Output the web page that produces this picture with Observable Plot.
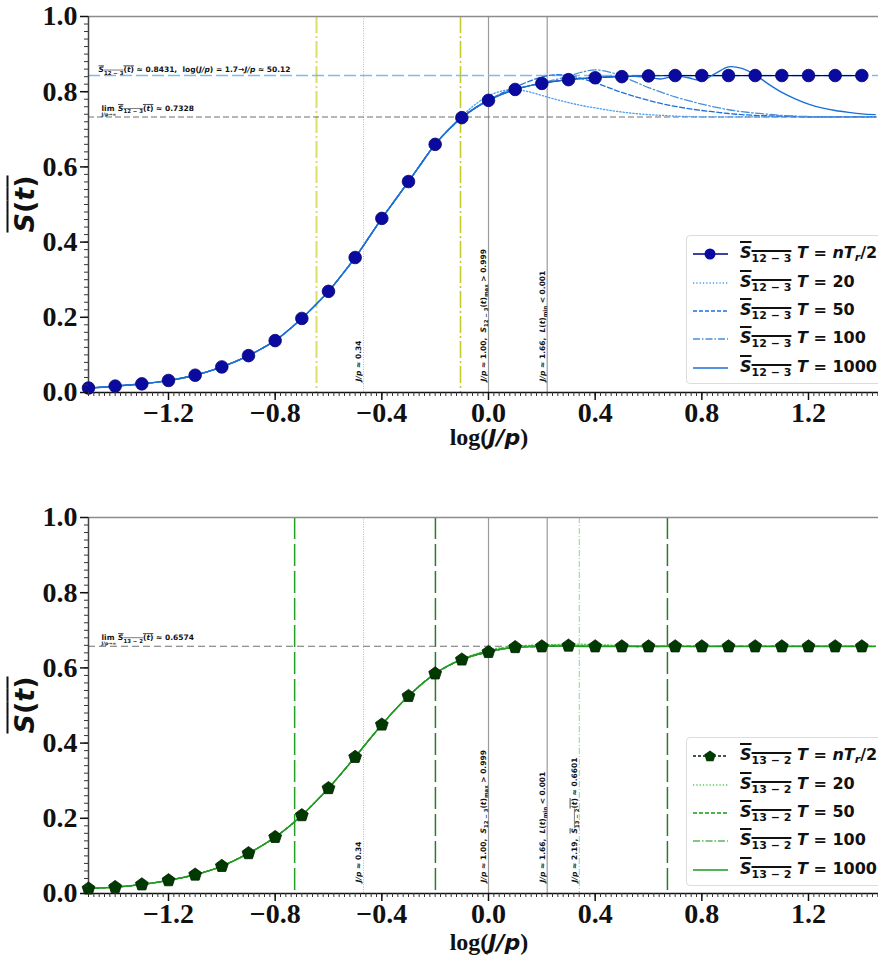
<!DOCTYPE html>
<html>
<head>
<meta charset="utf-8">
<script src="https://cdn.jsdelivr.net/npm/d3@7"></script>
<script src="https://cdn.jsdelivr.net/npm/@observablehq/plot@0.6"></script>
<style>
  html, body { margin: 0; padding: 0; background: #fff; }
  #fig { position: relative; width: 878px; height: 960px; overflow: hidden; background: #fff; }
  #fig svg.panel { position: absolute; left: 0; }
  .panel g[aria-label$="tick label"] text { font-family: "Liberation Serif", serif; font-weight: bold; font-size: 28px; }
  .xl { position: absolute; transform: translate(-50%, -50%); white-space: nowrap; font: bold 24px "Liberation Serif", serif; color: #111; }
  .xl i { font-family: "DejaVu Sans", sans-serif; font-size: 22px; }
  .yl { position: absolute; transform: translate(-50%, -50%) rotate(-90deg); white-space: nowrap; font: bold 27px "DejaVu Sans", sans-serif; color: #111; }
  .ov { text-decoration: overline; text-decoration-thickness: 2px; }
  .legend { position: absolute; width: 210px; background: #fff; border: 1px solid #dcdcdc; border-radius: 4px; box-sizing: border-box; padding-top: 4px; }
  .legend .row { display: flex; align-items: center; height: 28.4px; }
  .legend svg { margin-left: 6px; flex: none; }
  .legend .lab { margin-left: 12px; font: bold 16px "DejaVu Sans", sans-serif; color: #111; white-space: nowrap; }
  .legend .lab sub { font-size: 11px; vertical-align: -4px; }
  .legend .lab .ov { text-decoration-thickness: 1.5px; }
</style>
</head>
<body>
<div id="fig"></div>
<script>
// ---- sampling grids (log10 J/p) ----
const xRise = [-1.5, -1.45, -1.4, -1.35, -1.3, -1.25, -1.2, -1.15, -1.1, -1.05, -1.0, -0.95, -0.9, -0.85,
  -0.8, -0.75, -0.7, -0.65, -0.6, -0.55, -0.5, -0.45, -0.4, -0.35, -0.3, -0.25, -0.2];
const xTail = [-0.15, -0.1, -0.05, 0, 0.05, 0.1, 0.15, 0.2, 0.25, 0.3, 0.35, 0.4, 0.45, 0.5, 0.55, 0.6, 0.65,
  0.7, 0.75, 0.8, 0.85, 0.9, 0.95, 1.0, 1.05, 1.1, 1.15, 1.2, 1.25, 1.3, 1.35, 1.4, 1.45];
const xPoints = [-1.5, -1.4, -1.3, -1.2, -1.1, -1.0, -0.9, -0.8, -0.7, -0.6, -0.5, -0.4, -0.3, -0.2, -0.1,
  0, 0.1, 0.2, 0.3, 0.4, 0.5, 0.6, 0.7, 0.8, 0.9, 1.0, 1.1, 1.2, 1.3, 1.4];

// ---- S_{12-3}: time average at T = nT_r/2 and finite T ----
const s123Points = [0.012, 0.017, 0.023, 0.032, 0.046, 0.068, 0.098, 0.138, 0.197, 0.269, 0.359, 0.463, 0.561,
  0.660, 0.731, 0.777, 0.806, 0.822, 0.832, 0.837, 0.840, 0.842, 0.843, 0.843, 0.843, 0.843, 0.843, 0.843, 0.843, 0.843];
const s123Rise = [0.012, 0.014, 0.017, 0.020, 0.023, 0.027, 0.032, 0.038, 0.046, 0.056, 0.068, 0.082, 0.098, 0.117,
  0.138, 0.166, 0.197, 0.232, 0.269, 0.313, 0.359, 0.411, 0.463, 0.512, 0.561, 0.611, 0.660];
const s123T20 = [0.700, 0.735, 0.766, 0.789, 0.802, 0.806, 0.800, 0.790, 0.780, 0.771, 0.763, 0.757, 0.751, 0.746,
  0.742, 0.739, 0.737, 0.735, 0.734, 0.733, 0.733, 0.733, 0.733, 0.733, 0.733, 0.733, 0.733, 0.733, 0.733, 0.733,
  0.733, 0.733, 0.733];
const s123T50 = [0.698, 0.731, 0.757, 0.778, 0.796, 0.812, 0.827, 0.839, 0.845, 0.843, 0.835, 0.824, 0.811, 0.798,
  0.787, 0.777, 0.768, 0.761, 0.755, 0.750, 0.746, 0.742, 0.739, 0.737, 0.736, 0.735, 0.734, 0.733, 0.733, 0.733,
  0.733, 0.733, 0.733];
const s123T100 = [0.699, 0.731, 0.757, 0.778, 0.794, 0.807, 0.816, 0.824, 0.832, 0.841, 0.852, 0.858, 0.853, 0.841,
  0.826, 0.811, 0.798, 0.786, 0.776, 0.767, 0.759, 0.752, 0.747, 0.743, 0.740, 0.737, 0.735, 0.734, 0.733, 0.733,
  0.733, 0.733, 0.733];
const s123T1000 = [0.699, 0.731, 0.757, 0.777, 0.793, 0.806, 0.815, 0.822, 0.828, 0.832, 0.835, 0.837, 0.840, 0.842,
  0.841, 0.838, 0.834, 0.842, 0.837, 0.830, 0.848, 0.866, 0.862, 0.845, 0.820, 0.798, 0.781, 0.767, 0.757, 0.750,
  0.745, 0.741, 0.739];

// ---- S_{13-2} ----
const s132Points = [0.013, 0.017, 0.024, 0.035, 0.050, 0.073, 0.107, 0.150, 0.208, 0.280, 0.363, 0.449, 0.525,
  0.585, 0.622, 0.642, 0.655, 0.657, 0.659, 0.657, 0.657, 0.657, 0.657, 0.657, 0.657, 0.657, 0.657, 0.657, 0.657, 0.657];
const s132Rise = [0.013, 0.015, 0.017, 0.020, 0.024, 0.029, 0.035, 0.042, 0.050, 0.060, 0.073, 0.089, 0.107, 0.127,
  0.150, 0.177, 0.208, 0.243, 0.280, 0.321, 0.363, 0.407, 0.449, 0.489, 0.525, 0.557, 0.585];
const s132T20 = [0.607, 0.624, 0.637, 0.647, 0.654, 0.658, 0.660, 0.661, 0.662, 0.663, 0.663, 0.662, 0.661, 0.660,
  0.659, 0.659, 0.658, 0.658, 0.657, 0.657, 0.657, 0.657, 0.657, 0.657, 0.657, 0.657, 0.657, 0.657, 0.657, 0.657,
  0.657, 0.657, 0.657];
const s132T50 = [0.606, 0.623, 0.635, 0.645, 0.651, 0.655, 0.658, 0.659, 0.660, 0.660, 0.659, 0.659, 0.658, 0.658,
  0.657, 0.657, 0.657, 0.657, 0.657, 0.657, 0.657, 0.657, 0.657, 0.657, 0.657, 0.657, 0.657, 0.657, 0.657, 0.657,
  0.657, 0.657, 0.657];
const s132T100 = [0.606, 0.622, 0.634, 0.644, 0.650, 0.655, 0.657, 0.658, 0.659, 0.660, 0.660, 0.659, 0.658, 0.658,
  0.658, 0.657, 0.657, 0.657, 0.657, 0.657, 0.657, 0.657, 0.657, 0.657, 0.657, 0.657, 0.657, 0.657, 0.657, 0.657,
  0.657, 0.657, 0.657];
const s132T1000 = [0.606, 0.622, 0.634, 0.643, 0.650, 0.654, 0.656, 0.657, 0.658, 0.658, 0.657, 0.657, 0.657, 0.657,
  0.657, 0.657, 0.657, 0.657, 0.657, 0.657, 0.657, 0.657, 0.657, 0.657, 0.657, 0.657, 0.657, 0.657, 0.657, 0.657,
  0.657, 0.657, 0.657];

// ---- reference levels and markers ----
const periods = ["20", "50", "100", "1000"];
const plateau123 = 0.8431;
const limit123 = 0.7328;
const limit132 = 0.6574;
const jpMarks123 = [0.34, 1.00, 1.66];
const jpMarks132 = [0.34, 1.00, 1.66, 2.19];
const guides123 = [-0.645, -0.105];          // log(J/p) guides, upper panel
const guides132 = [-0.727, -0.199, 0.671];   // log(J/p) guides, lower panel

// ---- axis ticks ----
const xTicks = [-1.2, -0.8, -0.4, 0, 0.4, 0.8, 1.2];
const yTicks = [0, 0.2, 0.4, 0.6, 0.8, 1.0];
const xDomain = [-1.5, 1.4625];
const xMinor = d3.range(-75, 74).map(i => i / 50);
const yMinor = d3.range(0, 51).map(i => i / 50);
const fmt = d3.format(".1f");

// pentagon marker for the lower panel
const pentagon = {
  draw(ctx, size) {
    const r = Math.sqrt(size / Math.PI) * 1.12;
    for (let i = 0; i < 5; i++) {
      const a = -Math.PI / 2 + i * 2 * Math.PI / 5;
      const px = r * Math.cos(a), py = r * Math.sin(a);
      i ? ctx.lineTo(px, py) : ctx.moveTo(px, py);
    }
    ctx.closePath();
  }
};

// rich text (italics, subscripts, overlines) for annotation labels
const NS = "http://www.w3.org/2000/svg";
function richText(el, nodes, base) {
  el.textContent = "";
  let shift = 0;
  const leaf = (parent, n) => {
    const o = typeof n === "string" ? {t: n} : n;
    const s = document.createElementNS(NS, "tspan");
    s.textContent = o.t;
    let target = 0, size = base;
    if (o.sub) { target = base * 0.3; size = base * 0.72; }
    if (o.under) { target = base * 0.62; size = base * 0.62; }
    if (target !== shift) s.setAttribute("dy", (target - shift).toFixed(2));
    shift = target;
    if (o.dx) s.setAttribute("dx", o.dx);
    if (size !== base) s.setAttribute("font-size", size.toFixed(2));
    if (o.it) s.setAttribute("font-style", "italic");
    parent.appendChild(s);
  };
  for (const n of nodes) {
    if (n && n.over) {
      const g = document.createElementNS(NS, "tspan");
      g.setAttribute("text-decoration", "overline");
      el.appendChild(g);
      n.over.forEach(m => leaf(g, m));
    } else leaf(el, n);
  }
}
const JP = {t: "J/p", it: 1};
const sBar = sub => ({over: [{t: "S", it: 1}, {t: sub, sub: 1}, "(", {t: "t", it: 1}, ")"]});
const richLabels = {
  "J/p ≈ 0.34": [JP, " ≈ 0.34"],
  "J/p ≈ 1.00, S12−3(t)max > 0.999": [JP, " ≈ 1.00,  ", {t: "S", it: 1}, {t: "12 − 3", sub: 1}, "(", {t: "t", it: 1}, ")", {t: "max", sub: 1}, " > 0.999"],
  "J/p ≈ 1.66, L(t)min < 0.001": [JP, " ≈ 1.66,  ", {t: "L", it: 1}, "(", {t: "t", it: 1}, ")", {t: "min", sub: 1}, " < 0.001"],
  "J/p ≈ 2.19, S13−2(t) ≈ 0.6601": [JP, " ≈ 2.19,  ", sBar("13 − 2"), " ≈ 0.6601"],
  "S12−3(t) ≈ 0.8431, log(J/p) = 1.7→J/p ≈ 50.12": [sBar("12 − 3"), " ≈ 0.8431,  log(", JP, ") = 1.7→", JP, " ≈ 50.12"],
  "lim S12−3(t) ≈ 0.7328": [{t: "lim", dx: 3}, {t: "J/p→∞", under: 1, dx: -13}, {over: [{t: "S", it: 1, dx: 2}, {t: "12 − 3", sub: 1}, "(", {t: "t", it: 1}, ")"]}, " ≈ 0.7328"],
  "lim S13−2(t) ≈ 0.6574": [{t: "lim", dx: 3}, {t: "J/p→∞", under: 1, dx: -13}, {over: [{t: "S", it: 1, dx: 2}, {t: "13 − 2", sub: 1}, "(", {t: "t", it: 1}, ")"]}, " ≈ 0.6574"]
};
const jpText = {
  0.34: "J/p ≈ 0.34",
  1.00: "J/p ≈ 1.00, S12−3(t)max > 0.999",
  1.66: "J/p ≈ 1.66, L(t)min < 0.001",
  2.19: "J/p ≈ 2.19, S13−2(t) ≈ 0.6601"
};

function panel(cfg) {
  const xs = xRise.concat(xTail);
  const curves = [];
  cfg.tails.forEach((tail, k) => {
    const ys = cfg.rise.concat(tail);
    xs.forEach((x, i) => curves.push({x, y: ys[i], T: periods[k]}));
  });
  const pts = xPoints.map((x, i) => ({x, y: cfg.points[i]}));
  const st = cfg.styles;
  const marks = [
    // vertical guides
    ...cfg.guides.map((g, i) => Plot.ruleX([g], {stroke: cfg.guideStyle[i].c, strokeWidth: cfg.guideStyle[i].w, strokeDasharray: cfg.guideStyle[i].d})),
    ...cfg.jp.map(j => Plot.ruleX([Math.log10(j)], j === 0.34
      ? {stroke: "#b5b5b5", strokeWidth: 1, strokeDasharray: "1,1.4"}
      : j === 2.19 ? {stroke: "#8fd88f", strokeWidth: 1, strokeDasharray: "6,2,1,2"}
      : {stroke: "#9a9a9a", strokeWidth: 1.2})),
    // horizontal reference levels
    ...cfg.hlines.map((h, i) => Plot.ruleY([h], {stroke: cfg.hStyle[i].c, strokeWidth: cfg.hStyle[i].w, strokeDasharray: cfg.hStyle[i].d})),
    // spines
    Plot.ruleY([1], {stroke: "#8c8c8c", strokeWidth: 1.3}),
    Plot.ruleX([xDomain[0]], {stroke: "#444", strokeWidth: 1.5}),
    Plot.ruleY([0], {stroke: "#111", strokeWidth: 1.5}),
    // T = nT_r/2 connecting line (underneath the finite-T curves)
    Plot.line(pts, {x: "x", y: "y", stroke: cfg.pointLine, strokeWidth: 1.2, strokeDasharray: cfg.pointDash, curve: "catmull-rom"}),
    // finite-T curves
    ...periods.map((T, k) => Plot.line(curves.filter(d => d.T === T), {
      x: "x", y: "y", curve: "catmull-rom", stroke: st[k].c, strokeWidth: st[k].w, strokeDasharray: st[k].d
    })),
    // T = nT_r/2 markers
    Plot.dot(pts, {x: "x", y: "y", r: cfg.r, symbol: cfg.symbol, fill: cfg.pointFill, stroke: cfg.pointStroke, strokeWidth: 0.8}),
    // annotations
    Plot.text(cfg.jp, {
      x: d => Math.log10(d), text: d => jpText[d], frameAnchor: "bottom", rotate: -90,
      textAnchor: "start", lineAnchor: "middle", dx: -5, dy: -11,
      fontSize: 7.5, fontWeight: "bold", fontFamily: "DejaVu Sans", fill: "#111"
    }),
    Plot.text(cfg.hlines.map((h, i) => ({h, t: cfg.hText[i]})), {
      y: "h", text: "t", frameAnchor: "left", textAnchor: "start", lineAnchor: "bottom",
      dx: 10, dy: -3, fontSize: 7.5, fontWeight: "bold", fontFamily: "DejaVu Sans", fill: "#111"
    }),
    // axes
    Plot.axisX(xMinor, {tickSize: 4, tickFormat: () => "", strokeWidth: 1, label: null, stroke: "#333"}),
    Plot.axisY(yMinor, {tickSize: 4, tickFormat: () => "", strokeWidth: 1, label: null, stroke: "#333"}),
    Plot.axisX(xTicks, {tickSize: 8, tickPadding: 2, tickFormat: fmt, strokeWidth: 1.5, label: null, fill: "#111"}),
    Plot.axisY(yTicks, {tickSize: 8, tickPadding: 3, tickFormat: fmt, strokeWidth: 1.5, label: null, fill: "#111"})
  ];
  const svg = Plot.plot({
    width: 878, height: cfg.height,
    marginLeft: 88, marginRight: 0, marginTop: 16, marginBottom: cfg.height - 392,
    x: {domain: xDomain, label: null},
    y: {domain: [0, 1], label: null},
    style: {background: "transparent", overflow: "visible", color: "#111"},
    marks
  });
  svg.classList.add("panel");
  svg.style.top = cfg.top + "px";
  svg.querySelectorAll("text").forEach(t => {
    const spec = richLabels[t.textContent];
    if (spec) {
      const lim = t.textContent.startsWith("lim");
      richText(t, spec, 7.5);
      // lift the "lim" labels a little more above their dashed line
      if (lim) t.setAttribute("dy", "-3");
    }
  });
  return svg;
}

const fig = document.getElementById("fig");

fig.append(panel({
  top: 0, height: 460,
  rise: s123Rise, tails: [s123T20, s123T50, s123T100, s123T1000], points: s123Points,
  styles: [
    {c: "#4a9ff2", w: 1.3, d: "1.3,2"},
    {c: "#1b6fe0", w: 1.3, d: "5,2.5"},
    {c: "#4b8fd8", w: 1.3, d: "8,2.5,1.5,2.5"},
    {c: "#1a6fd6", w: 1.4, d: null}
  ],
  pointLine: "#000080", pointDash: null, pointFill: "#0a0aa0", pointStroke: "#05056e", r: 6.3, symbol: "circle",
  guides: guides123,
  guideStyle: [{c: "#dede66", w: 2, d: "17,3,2,3"}, {c: "#c9c92a", w: 1.6, d: "17,3,2,3"}],
  jp: jpMarks123,
  hlines: [plateau123, limit123],
  hStyle: [{c: "#78bdf5", w: 1.4, d: "12,4"}, {c: "#707070", w: 1.1, d: "6,3"}],
  hText: ["S12−3(t) ≈ 0.8431, log(J/p) = 1.7→J/p ≈ 50.12", "lim S12−3(t) ≈ 0.7328"]
}));

fig.append(panel({
  top: 501, height: 459,
  rise: s132Rise, tails: [s132T20, s132T50, s132T100, s132T1000], points: s132Points,
  styles: [
    {c: "#55cc55", w: 1.3, d: "1.3,2"},
    {c: "#109c10", w: 1.3, d: "5,2.5"},
    {c: "#5ab55a", w: 1.3, d: "8,2.5,1.5,2.5"},
    {c: "#1f9a1f", w: 1.4, d: null}
  ],
  pointLine: "#002200", pointDash: "4,2.5", pointFill: "#003a00", pointStroke: "#002000", r: 6, symbol: pentagon,
  guides: guides132,
  guideStyle: [{c: "#22a022", w: 1.5, d: "22,5"}, {c: "#2a7a2a", w: 1.5, d: "22,5"}, {c: "#2a7a2a", w: 1.5, d: "22,5"}],
  jp: jpMarks132,
  hlines: [limit132],
  hStyle: [{c: "#707070", w: 1.1, d: "7,4"}],
  hText: ["lim S13−2(t) ≈ 0.6574"]
}));

// axis titles
function addDiv(cls, html, left, top) {
  const d = document.createElement("div");
  d.className = cls; d.innerHTML = html;
  d.style.left = left + "px"; d.style.top = top + "px";
  fig.append(d);
}
const xTitle = 'log(<i>J/p</i>)';
const yTitle = '<span class="ov"><i>S</i>(<i>t</i>)</span>';
addDiv("xl", xTitle, 489, 437);
addDiv("xl", xTitle, 489, 942);
addDiv("yl", yTitle, 24, 204);
addDiv("yl", yTitle, 24, 705);

// legends
function legend(top, sub, colors, marker) {
  const box = document.createElement("div");
  box.className = "legend";
  box.style.left = "686px"; box.style.top = top + "px"; box.style.height = "149px";
  const rows = [
    {c: colors.point, d: colors.pointDash, w: 1.3, label: '<i>T</i> = <i>nT<sub style="font-size:11px;vertical-align:-3px">r</sub></i>/2', marker: true},
    {c: colors.t[0], d: "1.3,2", w: 1.3, label: "<i>T</i> = 20"},
    {c: colors.t[1], d: "4,2", w: 1.3, label: "<i>T</i> = 50"},
    {c: colors.t[2], d: "7,2,1.5,2", w: 1.3, label: "<i>T</i> = 100"},
    {c: colors.t[3], d: "", w: 1.3, label: "<i>T</i> = 1000"}
  ];
  for (const r of rows) {
    const row = document.createElement("div");
    row.className = "row";
    const mk = r.marker ? (marker === "circle"
      ? `<circle cx="17" cy="6" r="5.5" fill="${colors.pointFill}"/>`
      : `<path d="M17,0.5 L22.7,4.6 L20.5,11.2 L13.5,11.2 L11.3,4.6 Z" fill="${colors.pointFill}"/>`) : "";
    row.innerHTML = `<svg width="35" height="12"><line x1="0" x2="35" y1="6" y2="6" stroke="${r.c}" stroke-width="${r.w}" ${r.d ? `stroke-dasharray="${r.d}"` : ""}/>${mk}</svg>` +
      `<span class="lab"><span class="ov"><i>S</i><sub>${sub}</sub></span> ${r.label}</span>`;
    box.append(row);
  }
  fig.append(box);
}
legend(235, "12 − 3", {point: "#000080", pointDash: "", pointFill: "#0a0aa0", t: ["#4a9ff2", "#1b6fe0", "#4b8fd8", "#1a6fd6"]}, "circle");
legend(737, "13 − 2", {point: "#002200", pointDash: "3,2", pointFill: "#003a00", t: ["#55cc55", "#109c10", "#5ab55a", "#1f9a1f"]}, "pentagon");
</script>
</body>
</html>
